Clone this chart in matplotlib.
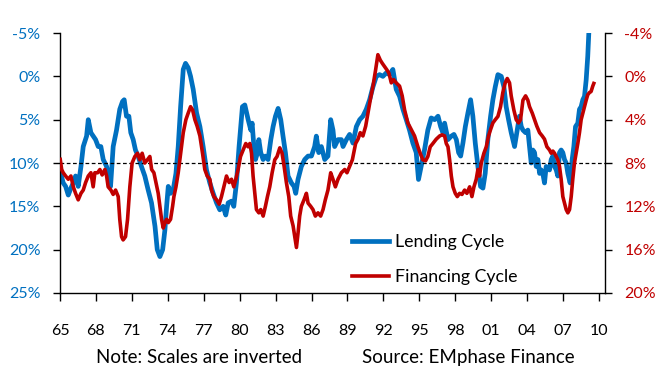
import matplotlib
matplotlib.use("Agg")
import matplotlib.pyplot as plt
from matplotlib.lines import Line2D

plt.rcParams['font.family'] = ['Lato', 'DejaVu Sans']

# ── data (fractional years) ────────────────────────────────────────────────
lend_years = [
    1965.00, 1965.08, 1965.27, 1965.47, 1965.69, 1965.91, 1966.11, 1966.30, 1966.52, 1966.75,
    1966.94, 1967.22, 1967.36, 1967.58, 1967.77, 1967.97, 1968.19, 1968.41, 1968.61, 1968.75,
    1968.89, 1969.08, 1969.22, 1969.44, 1969.72, 1969.99, 1970.22, 1970.36, 1970.55, 1970.75,
    1970.91, 1971.11, 1971.30, 1971.52, 1971.80, 1972.08, 1972.36, 1972.64, 1972.93, 1973.12,
    1973.34, 1973.57, 1973.76, 1973.90, 1974.04, 1974.23, 1974.45, 1974.68, 1974.87, 1975.07,
    1975.29, 1975.48, 1975.70, 1975.90, 1976.12, 1976.40, 1976.68, 1976.95, 1977.23, 1977.51,
    1977.79, 1978.07, 1978.34, 1978.62, 1978.84, 1979.04, 1979.32, 1979.51, 1979.73, 1979.95,
    1980.23, 1980.43, 1980.71, 1980.93, 1981.04, 1981.21, 1981.32, 1981.49, 1981.60, 1981.76,
    1981.96, 1982.15, 1982.37, 1982.60, 1982.79, 1982.99, 1983.21, 1983.43, 1983.62, 1983.82,
    1984.04, 1984.32, 1984.54, 1984.68, 1984.87, 1985.15, 1985.43, 1985.71, 1985.99, 1986.26,
    1986.40, 1986.60, 1986.82, 1987.10, 1987.37, 1987.60, 1987.79, 1987.93, 1988.21, 1988.49,
    1988.63, 1988.91, 1989.18, 1989.46, 1989.74, 1990.02, 1990.29, 1990.57, 1990.85, 1991.13,
    1991.41, 1991.68, 1991.96, 1992.24, 1992.52, 1992.79, 1993.07, 1993.35, 1993.63, 1993.91,
    1994.18, 1994.46, 1994.74, 1994.93, 1995.15, 1995.43, 1995.71, 1995.99, 1996.28, 1996.56,
    1996.78, 1996.97, 1997.11, 1997.39, 1997.67, 1997.89, 1998.09, 1998.28, 1998.45, 1998.64,
    1998.84, 1999.06, 1999.28, 1999.47, 1999.67, 1999.89, 2000.11, 2000.31, 2000.50, 2000.72,
    2000.95, 2001.14, 2001.34, 2001.56, 2001.84, 2002.06, 2002.25, 2002.45, 2002.67, 2002.95,
    2003.17, 2003.36, 2003.51, 2003.65, 2003.87, 2004.06, 2004.20, 2004.34, 2004.48, 2004.62,
    2004.76, 2004.90, 2005.04, 2005.18, 2005.31, 2005.45, 2005.59, 2005.87, 2006.01, 2006.15,
    2006.29, 2006.43, 2006.56, 2006.70, 2006.84, 2006.98, 2007.12, 2007.26, 2007.40, 2007.59,
    2007.76, 2007.90, 2008.04, 2008.23, 2008.37, 2008.51, 2008.65, 2008.79, 2008.93, 2009.06,
    2009.15, 2009.25]
lend_vals = [
    11.2, 11.3, 12.3, 12.7, 13.7, 12.9, 12.3, 11.5, 12.7, 10.4,
    8.1, 6.9, 5.0, 6.5, 6.9, 7.3, 8.1, 8.1, 9.6, 10.0,
    10.4, 11.5, 12.7, 8.1, 6.2, 3.8, 2.9, 2.7, 4.6, 4.6,
    6.5, 7.3, 8.5, 9.2, 10.4, 11.5, 13.1, 14.6, 17.3, 20.0,
    20.8, 20.0, 17.7, 15.0, 12.7, 13.5, 13.1, 11.2, 8.1, 3.5,
    -0.8, -1.5, -1.0, 0.0, 1.5, 4.2, 5.8, 8.1, 10.8, 12.3,
    13.5, 14.6, 15.4, 15.0, 16.0, 14.6, 14.4, 15.0, 12.3, 8.1,
    3.5, 3.3, 5.0, 6.2, 5.4, 8.5, 9.6, 8.8, 7.3, 8.8,
    9.6, 9.2, 9.6, 7.3, 5.8, 4.6, 3.7, 5.0, 6.9, 8.8,
    11.5, 12.3, 12.7, 13.5, 11.9, 10.4, 9.6, 9.2, 9.2, 8.1,
    6.9, 8.8, 8.1, 9.6, 9.2, 5.0, 6.2, 8.1, 7.3, 7.3,
    8.1, 7.3, 6.7, 7.7, 5.8, 5.0, 4.6, 3.8, 2.7, 1.2,
    0.0, -0.2, 0.0, -0.4, -0.2, -0.8, 1.5, 2.3, 3.8, 5.0,
    6.2, 7.7, 8.8, 11.9, 10.4, 8.5, 6.2, 4.8, 5.0, 4.6,
    5.8, 6.5, 5.4, 7.3, 6.9, 6.7, 7.3, 8.8, 9.2, 7.7,
    5.8, 4.2, 2.7, 4.6, 7.7, 10.4, 12.7, 12.9, 11.2, 7.3,
    4.6, 2.7, 1.2, -0.2, 0.0, 1.2, 3.5, 5.0, 6.5, 8.1,
    6.2, 4.6, 5.8, 6.2, 6.5, 6.2, 8.1, 10.0, 8.5, 8.8,
    10.4, 9.6, 11.2, 10.8, 11.2, 12.3, 10.4, 10.8, 9.6, 9.2,
    10.4, 10.8, 11.5, 8.8, 8.5, 8.8, 9.6, 10.0, 11.2, 12.3,
    9.6, 8.1, 5.8, 5.4, 3.8, 3.5, 2.7, 2.3, 0.4, -2.3,
    -5.0, -7.0]

fin_years = [
    1965.00, 1965.14, 1965.27, 1965.47, 1965.69, 1965.91, 1966.11, 1966.30, 1966.52, 1966.75,
    1966.94, 1967.14, 1967.36, 1967.58, 1967.77, 1967.91, 1968.14, 1968.33, 1968.52, 1968.75,
    1968.89, 1969.02, 1969.25, 1969.44, 1969.64, 1969.86, 1969.99, 1970.14, 1970.27, 1970.47,
    1970.64, 1970.83, 1971.02, 1971.25, 1971.47, 1971.66, 1971.86, 1972.08, 1972.30, 1972.50,
    1972.65, 1972.84, 1973.01, 1973.20, 1973.34, 1973.48, 1973.62, 1973.76, 1973.90, 1974.04,
    1974.23, 1974.40, 1974.51, 1974.68, 1974.87, 1975.07, 1975.29, 1975.51, 1975.70, 1975.90,
    1976.07, 1976.26, 1976.45, 1976.68, 1976.90, 1977.09, 1977.29, 1977.51, 1977.65, 1977.84,
    1978.07, 1978.29, 1978.48, 1978.68, 1978.90, 1979.12, 1979.32, 1979.51, 1979.68, 1979.87,
    1980.07, 1980.29, 1980.51, 1980.70, 1980.85, 1980.99, 1981.12, 1981.26, 1981.40, 1981.60,
    1981.76, 1981.96, 1982.15, 1982.32, 1982.51, 1982.71, 1982.93, 1983.12, 1983.35, 1983.54,
    1983.71, 1983.90, 1984.10, 1984.26, 1984.46, 1984.60, 1984.74, 1984.87, 1985.01, 1985.15,
    1985.37, 1985.57, 1985.71, 1985.93, 1986.12, 1986.32, 1986.54, 1986.76, 1986.96, 1987.15,
    1987.37, 1987.60, 1987.79, 1987.99, 1988.21, 1988.49, 1988.77, 1988.96, 1989.18, 1989.41,
    1989.52, 1989.68, 1989.88, 1990.07, 1990.29, 1990.52, 1990.71, 1990.90, 1991.13, 1991.35,
    1991.54, 1991.74, 1991.91, 1992.10, 1992.29, 1992.46, 1992.66, 1992.85, 1993.07, 1993.35,
    1993.57, 1993.77, 1994.04, 1994.32, 1994.60, 1994.88, 1995.07, 1995.29, 1995.52, 1995.71,
    1995.91, 1996.13, 1996.41, 1996.70, 1996.89, 1997.11, 1997.25, 1997.39, 1997.53, 1997.67,
    1997.81, 1998.00, 1998.17, 1998.36, 1998.56, 1998.78, 1998.97, 1999.20, 1999.39, 1999.56,
    1999.75, 1999.89, 2000.03, 2000.17, 2000.39, 2000.59, 2000.78, 2000.95, 2001.14, 2001.34,
    2001.56, 2001.78, 2001.97, 2002.17, 2002.34, 2002.53, 2002.67, 2002.89, 2003.09, 2003.28,
    2003.45, 2003.65, 2003.87, 2004.06, 2004.20, 2004.43, 2004.62, 2004.81, 2005.04, 2005.26,
    2005.45, 2005.65, 2005.87, 2006.01, 2006.15, 2006.29, 2006.43, 2006.56, 2006.70, 2006.84,
    2006.98, 2007.12, 2007.26, 2007.40, 2007.54, 2007.68, 2007.81, 2007.95, 2008.09, 2008.23,
    2008.37, 2008.51, 2008.65, 2008.79, 2008.93, 2009.06, 2009.20, 2009.34, 2009.48, 2009.62]
fin_vals = [
    7.5, 8.6, 8.9, 9.2, 9.5, 9.2, 10.2, 10.8, 11.4, 10.8,
    10.5, 9.8, 9.2, 8.9, 10.2, 8.9, 8.9, 8.6, 9.1, 8.6,
    9.2, 10.2, 10.5, 10.9, 10.5, 11.1, 13.2, 14.8, 15.1, 14.8,
    13.2, 10.2, 8.0, 7.4, 7.1, 7.7, 7.1, 8.0, 7.7, 7.4,
    8.6, 8.9, 9.8, 10.8, 12.0, 13.2, 14.0, 13.5, 13.2, 13.5,
    13.2, 12.0, 11.1, 10.2, 8.9, 7.1, 5.2, 4.0, 3.4, 2.8,
    3.1, 4.0, 4.6, 5.5, 7.1, 8.6, 9.2, 9.5, 10.5, 11.1,
    11.4, 11.8, 11.1, 10.2, 9.2, 9.8, 9.5, 10.2, 9.5, 8.6,
    7.4, 6.8, 6.2, 6.5, 6.2, 7.1, 9.2, 10.8, 12.3, 12.6,
    12.3, 12.9, 12.0, 11.1, 10.2, 8.9, 7.7, 7.4, 6.6, 7.1,
    8.3, 9.8, 11.1, 12.9, 13.8, 14.8, 15.8, 14.5, 12.9, 12.0,
    11.4, 10.8, 11.7, 12.0, 12.3, 12.9, 12.6, 12.9, 12.3, 11.4,
    10.5, 8.9, 9.5, 10.2, 9.5, 8.9, 8.6, 8.9, 8.3, 7.7,
    7.1, 6.2, 5.8, 5.2, 5.5, 4.6, 3.4, 2.2, 0.9, -0.6,
    -2.0, -1.5, -1.2, -0.9, -0.6, -0.3, 0.6, 0.3, 0.6, 0.9,
    1.8, 3.1, 4.3, 4.9, 5.5, 6.5, 7.1, 7.7, 7.8, 7.4,
    6.5, 6.2, 5.8, 5.5, 5.4, 5.5, 6.2, 6.5, 7.7, 9.2,
    10.2, 10.8, 11.1, 10.8, 10.9, 10.5, 10.8, 10.2, 11.1, 10.2,
    9.5, 8.6, 9.2, 8.0, 7.1, 6.5, 5.5, 4.9, 4.3, 4.0,
    3.7, 2.8, 1.5, 0.6, 0.2, 0.6, 1.8, 3.1, 4.0, 4.3,
    4.0, 2.2, 1.8, 2.2, 2.8, 3.4, 4.0, 4.6, 5.2, 5.5,
    5.8, 6.5, 6.8, 7.1, 6.9, 7.1, 7.4, 7.7, 8.3, 9.5,
    11.1, 11.7, 12.3, 12.6, 12.3, 11.1, 9.5, 8.0, 7.1, 6.2,
    5.2, 4.0, 3.4, 2.8, 2.2, 1.7, 1.5, 1.4, 0.9, 0.5]

left_ticks = [-5, 0, 5, 10, 15, 20, 25]
right_ticks = [-4, 0, 4, 8, 12, 16, 20]
year_ticks = list(range(1965, 2011, 3))

BLUE = "#0070C0"
RED = "#C00000"

fig = plt.figure(figsize=(6.63, 3.84), dpi=100)
ax = fig.add_axes([0.0905, 0.237, 0.822, 0.677])
ax2 = ax.twinx()

ax.plot(lend_years, lend_vals, color=BLUE, lw=3.4, solid_capstyle="butt")
ax.axhline(10, color="black", lw=0.9, ls=(0, (3, 2)), zorder=3)
ax2.plot(fin_years, fin_vals, color=RED, lw=2.6, solid_capstyle="butt")

ax.set_xlim(1965, 2010.5)
ax.set_ylim(25, -5)
ax2.set_ylim(20, -4)

ax.set_yticks(left_ticks)
ax.set_yticklabels([f"{v}%" for v in left_ticks])
ax2.set_yticks(right_ticks)
ax2.set_yticklabels([f"{v}%" for v in right_ticks])
ax.set_xticks(year_ticks)
ax.set_xticklabels([f"{y % 100:02d}" for y in year_ticks])

ax.tick_params(axis="y", colors="black", labelcolor=BLUE, labelsize=11.5,
               length=5, width=1, pad=9)
ax2.tick_params(axis="y", colors="black", labelcolor=RED, labelsize=11.5,
                length=5, width=1, pad=9)
ax.tick_params(axis="x", labelsize=11.5, length=6, width=1, pad=16)

for a in (ax, ax2):
    a.spines["top"].set_visible(False)
    for s in a.spines.values():
        s.set_linewidth(1)
ax2.spines["left"].set_visible(False)
ax2.spines["bottom"].set_visible(False)
ax.spines["right"].set_visible(False)

handles = [Line2D([], [], color=BLUE, lw=3.4), Line2D([], [], color=RED, lw=2.6)]
ax2.legend(handles, ["Lending Cycle", "Financing Cycle"], loc="center left",
           bbox_to_anchor=(0.536, 0.128), frameon=False, fontsize=12.8,
           handlelength=2.1, handletextpad=0.3, labelspacing=1.1,
           borderaxespad=0, borderpad=0)

fig.text(0.30, 0.068, "Note: Scales are inverted", ha="center", va="center", fontsize=13.5)
fig.text(0.706, 0.068, "Source: EMphase Finance", ha="center", va="center", fontsize=13.5)

fig.savefig("out.png", dpi=100)
